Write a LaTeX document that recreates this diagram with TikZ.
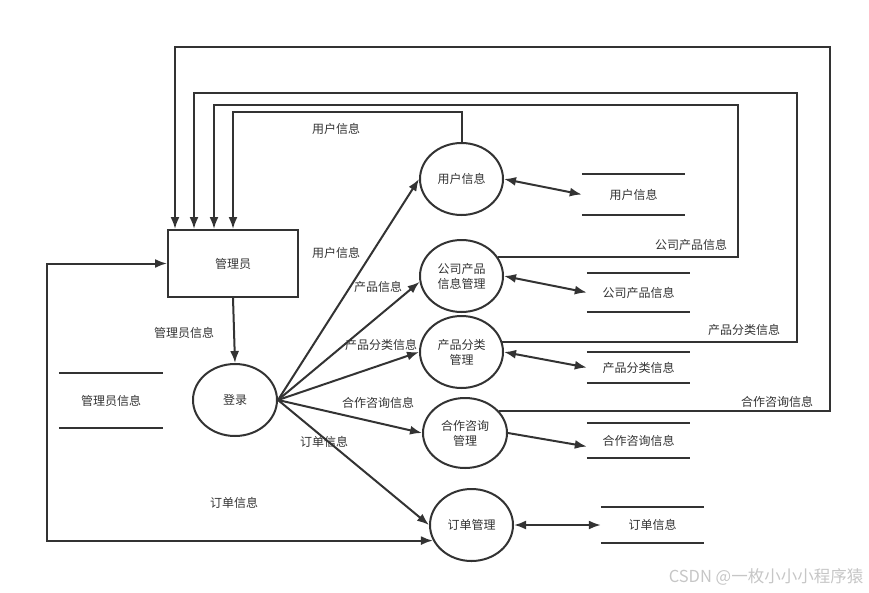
\documentclass[tikz,border=0pt]{standalone}
\usepackage{fontspec}
\setmainfont{Noto Sans CJK SC}
\usepackage{xcolor}
\usetikzlibrary{arrows.meta}
\usetikzlibrary{shapes.geometric}
\definecolor{linegray}{HTML}{333333}

\begin{document}
\begin{tikzpicture}[x=1pt,y=-1pt,font=\fontsize{12}{15}\selectfont,
  every node/.append style={text=linegray},
  proc/.style={ellipse,draw=linegray,line width=2,minimum width=83,minimum height=72,inner sep=0,align=center},
  store/.style={minimum width=103,inner sep=0},
  flow/.style={draw=linegray,line width=2,-{Latex[length=12pt,width=9pt]}},
  both/.style={{Latex[length=12pt,width=9pt]}-{Latex[length=12pt,width=9pt]}}]

\useasboundingbox (0,0) rectangle (869,592);

\node[rectangle,draw=linegray,line width=2,minimum width=130,minimum height=67] (gly) at (233,263.5) {管理员};
\node[proc,minimum width=84] (dl) at (235,400) {登录};
\node[proc] (yh) at (461.5,179) {用户信息};
\node[proc] (gs) at (461.5,276) {公司产品\\信息管理};
\node[proc] (cf) at (461.5,352) {产品分类\\管理};
\node[proc,minimum width=84,minimum height=70] (hz) at (465,433) {合作咨询\\管理};
\node[proc] (dd) at (471.5,525) {订单管理};

\node[store,minimum width=104,minimum height=55] (glys) at (111,400.5) {管理员信息};
\node[store,minimum height=41] (yhs) at (633.5,194.5) {用户信息};
\node[store,minimum height=39] (gss) at (638.5,292.5) {公司产品信息};
\node[store,minimum height=31] (cfs) at (638.5,367.5) {产品分类信息};
\node[store,minimum height=35] (hzs) at (638.5,440.5) {合作咨询信息};
\node[store,minimum height=36] (dds) at (652.5,525) {订单信息};
\foreach \s in {glys,yhs,gss,cfs,hzs,dds}
  \draw[linegray,line width=2] (\s.north west) -- (\s.north east) (\s.south west) -- (\s.south east);

\node (l1) at (336,129) {用户信息};
\node (l2) at (336,253) {用户信息};
\node (l3) at (378,287) {产品信息};
\node (l4) at (381,345) {产品分类信息};
\node (l5) at (378,403) {合作咨询信息};
\node (l6) at (324,442) {订单信息};
\node (l7) at (184,333) {管理员信息};
\node (l8) at (234,503) {订单信息};
\node (l9) at (691,245) {公司产品信息};
\node (l10) at (744,330) {产品分类信息};
\node (l11) at (777,402) {合作咨询信息};
\node[text=gray!45,font=\fontsize{16.5}{19}\selectfont] (wm) at (766,577) {CSDN @一枚小小小程序猿};

\coordinate (k1) at (830,47);
\coordinate (k2) at (797,93);
\coordinate (k3) at (738,105);

\draw[flow] (gly.south) -- (dl.north);
\draw[flow] (dl.east) -- (yh.west);
\draw[flow] (dl.east) -- (gs.188);
\draw[flow] (dl.east) -- (cf.west);
\draw[flow] (dl.east) -- (hz.west);
\draw[flow] (dl.east) -- (dd.west);

\draw[flow,both] (yh.east) -- (yhs.west);
\draw[flow,both] (gs.east) -- (gss.west);
\draw[flow,both] (cf.east) -- (cfs.west);
\draw[flow] (hz.east) -- ([yshift=-6]hzs.west);
\draw[flow,both] (dd.east) -- (dds.west);

\draw[flow] (yh.north) -- ++(0,-30) -| (gly.north);
\draw[flow] (gs.28) -| (k3) -| ([xshift=47]gly.north west);
\draw[flow] (cf.14) -| (k2) -| ([xshift=27]gly.north west);
\draw[flow] (hz.32) -| (k1) -| ([xshift=8]gly.north west);
\draw[flow,both] (gly.west) -- ++(-120,0) |- (dd.202);

\end{tikzpicture}
\end{document}
